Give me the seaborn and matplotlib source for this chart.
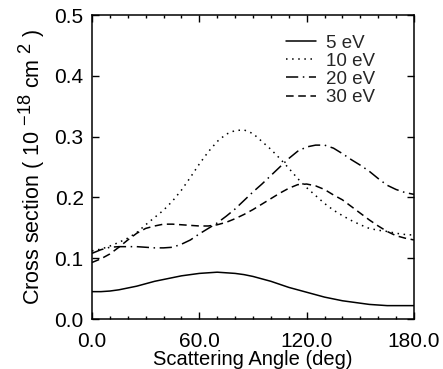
import numpy as np
import pandas as pd
import seaborn as sns
import matplotlib.pyplot as plt
import matplotlib._mathtext as mathtext_internals
from matplotlib.ticker import MultipleLocator

# scattering angle (deg), 5 degree steps
angle = list(range(0, 181, 5))

cs_5ev = [0.045, 0.045, 0.046, 0.048, 0.051, 0.054, 0.058, 0.062, 0.065, 0.068,
          0.071, 0.073, 0.075, 0.076, 0.077, 0.076, 0.075, 0.073, 0.070, 0.066,
          0.062, 0.057, 0.052, 0.048, 0.044, 0.040, 0.036, 0.033, 0.030, 0.028,
          0.026, 0.024, 0.023, 0.022, 0.022, 0.022, 0.022]
cs_10ev = [0.112, 0.115, 0.120, 0.126, 0.133, 0.142, 0.155, 0.167, 0.179, 0.194,
           0.212, 0.233, 0.255, 0.275, 0.292, 0.304, 0.310, 0.311, 0.305, 0.292,
           0.279, 0.264, 0.248, 0.231, 0.216, 0.203, 0.190, 0.179, 0.170, 0.162,
           0.155, 0.149, 0.146, 0.144, 0.141, 0.139, 0.138]
cs_20ev = [0.108, 0.114, 0.118, 0.119, 0.119, 0.119, 0.118, 0.117, 0.117, 0.118,
           0.123, 0.130, 0.140, 0.149, 0.158, 0.169, 0.181, 0.195, 0.209, 0.222,
           0.236, 0.250, 0.264, 0.276, 0.283, 0.286, 0.286, 0.281, 0.272, 0.262,
           0.253, 0.243, 0.231, 0.220, 0.213, 0.208, 0.205]
cs_30ev = [0.093, 0.099, 0.107, 0.118, 0.130, 0.141, 0.149, 0.153, 0.156, 0.156,
           0.155, 0.154, 0.153, 0.153, 0.155, 0.159, 0.165, 0.172, 0.180, 0.189,
           0.198, 0.207, 0.215, 0.221, 0.222, 0.219, 0.213, 0.204, 0.196, 0.185,
           0.174, 0.163, 0.153, 0.144, 0.137, 0.133, 0.130]

labels = ["5 eV", "10 eV", "20 eV", "30 eV"]
series = [cs_5ev, cs_10ev, cs_20ev, cs_30ev]

df = pd.concat([pd.DataFrame({"angle": angle, "cs": s, "energy": lab})
                for lab, s in zip(labels, series)], ignore_index=True)

sns.set_theme(style="ticks")
plt.rcParams["font.family"] = ["Liberation Sans", "DejaVu Sans"]
plt.rcParams["mathtext.fontset"] = "custom"
plt.rcParams["mathtext.rm"] = "Liberation Sans"
plt.rcParams["mathtext.it"] = "Liberation Sans"
# the original's exponents are almost full size
mathtext_internals.SHRINK_FACTOR = 0.85

fig = plt.figure(figsize=(4.43, 3.69), dpi=100)
ax = fig.add_axes([0.2077, 0.1355, 0.7268, 0.8238])

dashes = {"5 eV": "", "10 eV": (1, 3), "20 eV": (8, 3, 1, 3), "30 eV": (5, 3)}
sns.lineplot(data=df, x="angle", y="cs", hue="energy", style="energy",
             palette=["black"] * 4, dashes=dashes, linewidth=1.1, ax=ax)

ax.set_xlim(0, 180)
ax.set_ylim(0, 0.5)
ax.xaxis.set_major_locator(MultipleLocator(60))
ax.xaxis.set_minor_locator(MultipleLocator(10))
ax.yaxis.set_major_locator(MultipleLocator(0.1))
ax.xaxis.set_major_formatter(lambda v, p: f"{v:.1f}")
ax.yaxis.set_major_formatter(lambda v, p: f"{v:.1f}")
ax.tick_params(which="both", direction="in", top=True, right=True,
               labelsize=15, colors="black", width=1)
ax.tick_params(which="major", length=5, pad=6)
ax.tick_params(which="minor", length=2.5)
ax.tick_params(axis="x", which="major", pad=9)
for sp in ax.spines.values():
    sp.set_visible(True)
    sp.set_color("black")
    sp.set_linewidth(1.1)

ax.set_xlabel("Scattering Angle (deg)", fontsize=14.5, labelpad=-0.5, color="black")
ax.set_ylabel(r"Cross section ( 10 $^{\mathregular{-18}}$ cm $^{\mathregular{2}}$ )",
              fontsize=15.5, labelpad=5, color="black")

leg = ax.legend(loc="upper left", frameon=False, fontsize=13.5, handlelength=1.6,
                handletextpad=0.55, labelspacing=0.05, borderaxespad=0,
                borderpad=0, bbox_to_anchor=(0.603, 0.935))
for h in leg.get_lines():
    h.set_linewidth(1.1)

fig.savefig("out.png", dpi=100)
